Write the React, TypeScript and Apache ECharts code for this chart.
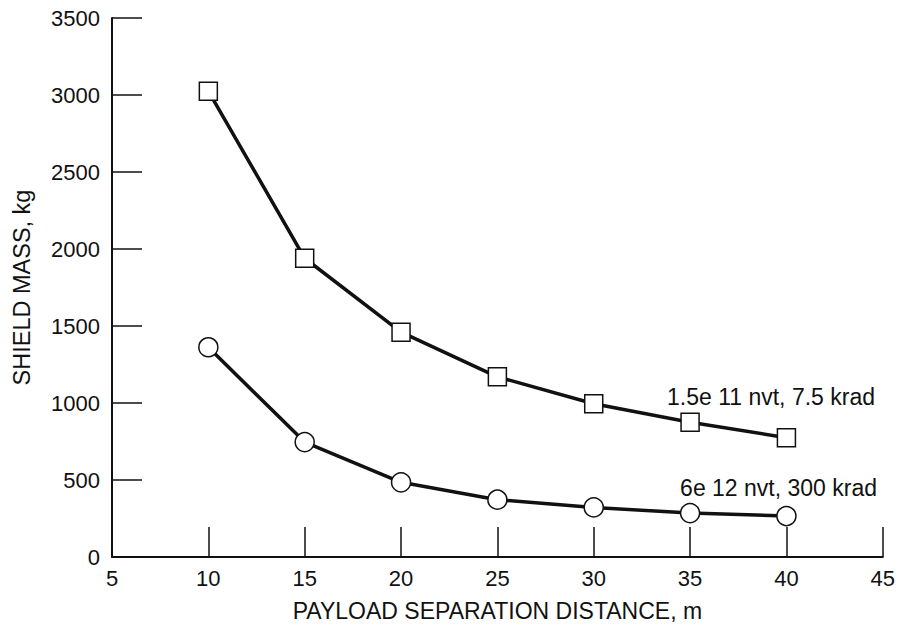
import React, { useEffect, useRef } from "react";
import * as echarts from "echarts";

const distances = [10, 15, 20, 25, 30, 35, 40];
const upperMass = [3025, 1940, 1460, 1170, 995, 875, 775];
const lowerMass = [1362, 746, 485, 372, 322, 285, 266];
const upperLabel = "1.5e 11 nvt, 7.5 krad";
const lowerLabel = "6e 12 nvt, 300 krad";
const xTitle = "PAYLOAD SEPARATION DISTANCE, m";
const yTitle = "SHIELD MASS, kg";

const FONT = "'Liberation Sans', Arial, Helvetica, sans-serif";

export default function App() {
  const ref = useRef<HTMLDivElement>(null);
  useEffect(() => {
    document.body.style.margin = "0";
    if (!ref.current) return;
    const chart = echarts.init(ref.current, undefined, { renderer: "svg" });
    const mk = (vals: number[]) => distances.map((d, i) => [d, vals[i]]);
    chart.setOption({
      animation: false,
      backgroundColor: "#ffffff",
      textStyle: { fontFamily: FONT, color: "#111" },
      grid: { left: 112, right: 14, top: 18, bottom: 76 },
      xAxis: {
        type: "value",
        min: 5,
        max: 45,
        interval: 5,
        name: xTitle,
        nameLocation: "middle",
        nameGap: 42,
        nameTextStyle: { fontSize: 23, color: "#111", fontFamily: FONT },
        axisLine: { show: true, lineStyle: { color: "#111", width: 2 } },
        axisTick: { show: true, inside: true, length: 30, lineStyle: { color: "#111", width: 1.5 } },
        axisLabel: { fontSize: 22, color: "#111", margin: 10, fontFamily: FONT, formatter: (v: number) => String(v) },
        splitLine: { show: false },
      },
      yAxis: {
        type: "value",
        min: 0,
        max: 3500,
        interval: 500,
        name: yTitle,
        nameLocation: "middle",
        nameGap: 78,
        nameRotate: 90,
        nameTextStyle: { fontSize: 23.5, color: "#111", fontFamily: FONT },
        axisLine: { show: true, lineStyle: { color: "#111", width: 2 } },
        axisTick: { show: true, inside: true, length: 30, lineStyle: { color: "#111", width: 1.5 } },
        axisLabel: { fontSize: 22, color: "#111", margin: 12, fontFamily: FONT, formatter: (v: number) => String(v) },
        splitLine: { show: false },
      },
      series: [
        {
          type: "line",
          data: mk(upperMass),
          symbol: "rect",
          symbolSize: 18,
          lineStyle: { color: "#111", width: 3.5 },
          itemStyle: { color: "#fff", borderColor: "#111", borderWidth: 1.5 },
          z: 3,
        },
        {
          type: "line",
          data: mk(lowerMass),
          symbol: "circle",
          symbolSize: 19,
          lineStyle: { color: "#111", width: 3.5 },
          itemStyle: { color: "#fff", borderColor: "#111", borderWidth: 1.5 },
          z: 3,
        },
      ],
      graphic: [
        {
          type: "text",
          right: 23,
          top: 385,
          style: { text: upperLabel, font: `23px ${FONT}`, fill: "#111" },
        },
        {
          type: "text",
          right: 21,
          top: 476,
          style: { text: lowerLabel, font: `23px ${FONT}`, fill: "#111" },
        },
      ],
    });
    return () => chart.dispose();
  }, []);
  return <div ref={ref} style={{ width: 898, height: 633 }} />;
}
